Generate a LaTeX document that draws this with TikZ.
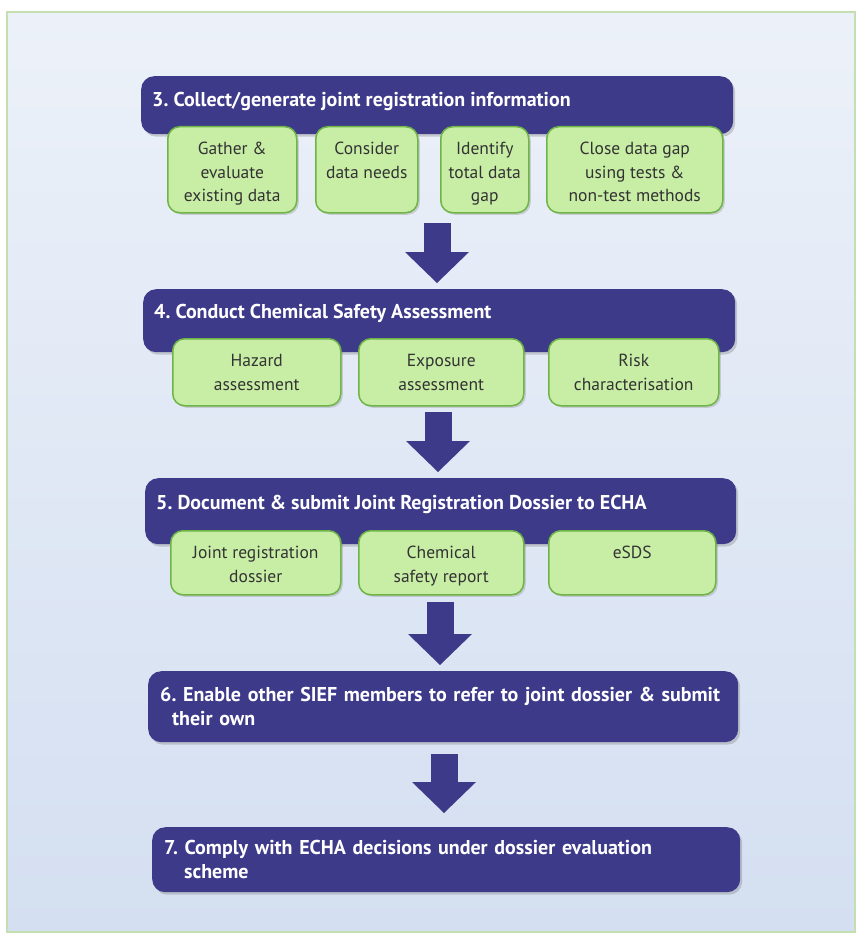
\documentclass[tikz,border=0pt]{standalone}
\usepackage{fontspec}
\setmainfont{PT Sans}
\usetikzlibrary{arrows.meta,shadows}
\frenchspacing

\definecolor{stepblue}{RGB}{62,58,138}
\definecolor{stepgreen}{RGB}{200,238,166}
\definecolor{edgegreen}{RGB}{110,180,70}
\definecolor{paperlight}{RGB}{236,241,249}
\definecolor{paperdark}{RGB}{212,223,241}
\definecolor{framegreen}{RGB}{196,224,178}

% top aligned text inside the green boxes
\newcommand{\gtext}[3]{\parbox[b][#2][t]{#1}{\centering\rule{0pt}{28pt}#3}}

\tikzset{
  stepbox/.style={fill=stepblue, rounded corners=13pt, anchor=north west, inner sep=0pt,
    drop shadow={opacity=0.35, shadow xshift=2pt, shadow yshift=-2.5pt}},
  steptitle/.style={text=white, anchor=base west, inner sep=0pt,
    font=\fontsize{20}{24}\selectfont\bfseries},
  steptext/.style={stepbox, text=white, align=left, inner xsep=12pt,
    font=\fontsize{20}{24}\selectfont\bfseries},
  greenbox/.style={fill=stepgreen, draw=edgegreen, line width=1.5pt, rounded corners=12pt,
    anchor=north west, inner sep=0pt, text=black!80,
    font=\fontsize{17.5}{23.5}\selectfont,
    drop shadow={opacity=0.3, shadow xshift=2pt, shadow yshift=-2pt}},
  flowarrow/.style={draw=stepblue, line width=27pt,
    -{Triangle[width=64pt,length=31pt,line width=0pt]}}
}

\begin{document}
\begin{tikzpicture}[x=1pt,y=-1pt]
  \useasboundingbox (0,0) rectangle (860,939);
  \fill[white] (0,0) rectangle (860,939);
  \draw[framegreen, line width=1.2pt, top color=paperlight, bottom color=paperdark]
    (7,12) rectangle (855,932);

  % Step 3
  \node[stepbox, minimum width=592pt, minimum height=58pt] (s3) at (141,76) {};
  \node[steptitle] (t3) at ([xshift=11pt,yshift=-31pt]s3.north west)
    {3. Collect/generate joint registration information};
  \node[greenbox] (g3a) at (167,126) {\gtext{129pt}{86pt}{Gather \&\\evaluate\\existing data}};
  \node[greenbox] (g3b) at (315,126) {\gtext{102pt}{86pt}{Consider\\data needs}};
  \node[greenbox] (g3c) at (440,126) {\gtext{88pt}{86pt}{Identify\\total data\\gap}};
  \node[greenbox] (g3d) at (546,126) {\gtext{176pt}{86pt}{Close data gap\\using tests \&\\non-test methods}};

  % Step 4
  \node[stepbox, minimum width=592pt, minimum height=63pt] (s4) at (143,289) {};
  \node[steptitle] (t4) at ([xshift=11pt,yshift=-29pt]s4.north west)
    {4. Conduct Chemical Safety Assessment};
  \node[greenbox] (g4a) at (172,338) {\gtext{168pt}{67pt}{Hazard\\assessment}};
  \node[greenbox] (g4b) at (358,338) {\gtext{165pt}{67pt}{Exposure\\assessment}};
  \node[greenbox] (g4c) at (548,338) {\gtext{170pt}{67pt}{Risk\\characterisation}};

  % Step 5
  \node[stepbox, minimum width=591pt, minimum height=66pt] (s5) at (145,478) {};
  \node[steptitle] (t5) at ([xshift=11pt,yshift=-31pt]s5.north west)
    {5. Document \& submit Joint Registration Dossier to ECHA};
  \node[greenbox] (g5a) at (170,530) {\gtext{170pt}{64pt}{Joint registration\\dossier}};
  \node[greenbox] (g5b) at (358,530) {\gtext{165pt}{64pt}{Chemical\\safety report}};
  \node[greenbox] (g5c) at (548,530) {\gtext{167pt}{64pt}{eSDS}};

  % Steps 6 and 7
  \node[steptext, text width=566pt, minimum height=71pt] (s6) at (148,671)
    {6. Enable other SIEF members to refer to joint dossier \& submit\\\hspace*{12pt}their own};
  \node[steptext, text width=564pt, minimum height=65pt] (s7) at (152,827)
    {7. Comply with ECHA decisions under dossier evaluation\\\hspace*{20pt}scheme};

  % block arrows
  \coordinate (a3) at (437,223);
  \coordinate (a4) at (438,412);
  \coordinate (a5) at (440,602);
  \coordinate (a6) at (444,754);
  \draw[flowarrow] (a3) -- ([yshift=6pt]s4.north -| a3);
  \draw[flowarrow] (a4) -- ([yshift=6pt]s5.north -| a4);
  \draw[flowarrow] (a5) -- ([yshift=6pt]s6.north -| a5);
  \draw[flowarrow] (a6) -- ([yshift=14pt]s7.north -| a6);
\end{tikzpicture}
\end{document}
